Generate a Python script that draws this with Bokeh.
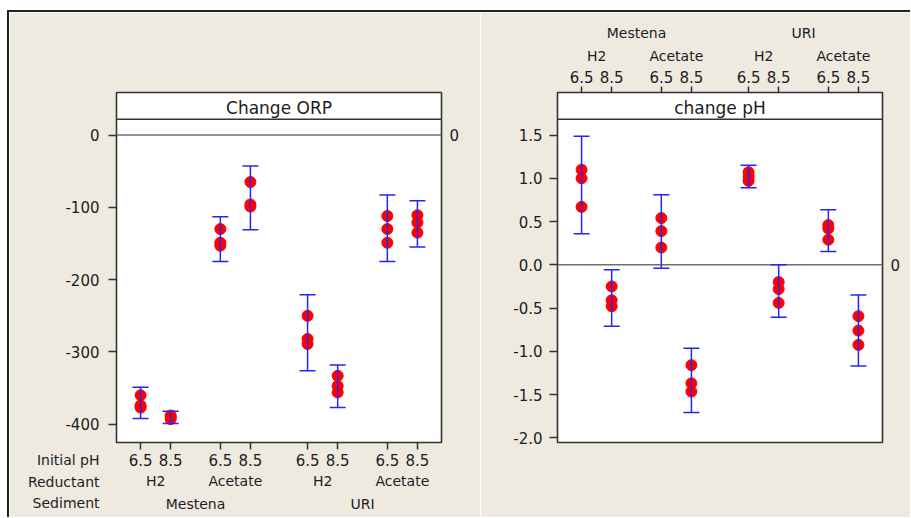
from bokeh.plotting import figure
from bokeh.models import (FactorRange, Range1d, Whisker, TeeHead, Span, Label,
                          LinearAxis, FixedTicker, ColumnDataSource, GridBox)
from bokeh.embed import file_html
from bokeh.resources import INLINE

# ---------------- data ----------------
sediments = ["Mestena", "URI"]
reductants = ["H2", "Acetate"]
initial_ph = ["6.5", "8.5"]
row_headers = ["Initial pH", "Reductant", "Sediment"]

orp_points = [[-360, -374, -377], [-388, -390, -393], [-130, -149, -153], [-65, -96, -99],
              [-250, -282, -289], [-333, -347, -356], [-112, -130, -149], [-111, -121, -135]]
orp_lower = [-392, -399, -175, -131, -326, -377, -175, -155]
orp_upper = [-349, -382, -113, -43, -221, -318, -83, -91]
orp_ticks = [0, -100, -200, -300, -400]
orp_tick_labels = ["0", "-100", "-200", "-300", "-400"]

ph_points = [[1.10, 1.00, 0.67], [-0.25, -0.41, -0.48], [0.54, 0.39, 0.20], [-1.16, -1.37, -1.465],
             [1.07, 1.02, 0.97], [-0.20, -0.28, -0.44], [0.46, 0.42, 0.29], [-0.594, -0.76, -0.925]]
ph_lower = [0.358, -0.71, -0.04, -1.707, 0.89, -0.605, 0.154, -1.17]
ph_upper = [1.487, -0.058, 0.81, -0.964, 1.15, 0.0, 0.636, -0.35]
ph_ticks = [1.5, 1.0, 0.5, 0.0, -0.5, -1.0, -1.5, -2.0]
ph_tick_labels = ["1.5", "1.0", "0.5", "0.0", "-0.5", "-1.0", "-1.5", "-2.0"]

# ---------------- styling ----------------
BG = "#EEEAE0"
FONT = "DejaVu Sans"
TXT = "#1c1c26"
RED = "#FF0000"
BLUE = "#2424FA"
EDGE = "#333333"
FRAME_W, FRAME_H = 325, 350
X_START, X_END = -0.3, 10.5
OX, OY = 9, 12          # page position of the canvases (after margin + border)
FIG_H = 505
TOP = 92                # page y of the frame top

factors = [(s, r, ph) for s in sediments for r in reductants for ph in initial_ph]


def make_panel(width, b_left, b_right, y_start, y_end, x_loc, title, points, lower, upper,
               ticks, tick_labels, y_standoff):
    xr = FactorRange(*factors, factor_padding=0.0, subgroup_padding=0.65, group_padding=0.9,
                     range_padding=0.6 / 10.2, range_padding_units="percent")
    p = figure(x_range=xr, y_range=Range1d(y_start, y_end), width=width, height=FIG_H,
               output_backend="svg", toolbar_location=None, title=None,
               x_axis_location=x_loc, min_border_left=b_left, min_border_right=b_right,
               min_border_top=TOP - OY, min_border_bottom=FIG_H - (TOP - OY) - FRAME_H,
               background_fill_color="white", border_fill_color=BG,
               outline_line_color=EDGE, outline_line_width=1.6)
    p.xgrid.visible = False
    p.ygrid.visible = False

    def yv(py):  # page px -> data value
        return y_end - (py - TOP) * (y_end - y_start) / FRAME_H

    # categorical axis (three rows of labels)
    xa = p.xaxis[0]
    xa.axis_line_color = None
    xa.major_tick_in = 0
    xa.major_tick_out = 7 if x_loc == "below" else 6
    xa.major_tick_line_color = EDGE
    xa.major_tick_line_width = 1.5
    xa.major_label_standoff = 4
    xa.separator_line_color = None
    xa.major_label_text_font = FONT
    xa.major_label_text_font_size = "15px"
    xa.major_label_text_color = TXT
    for pre in ("group", "subgroup"):
        setattr(xa, pre + "_text_font", FONT)
        setattr(xa, pre + "_text_font_size", "14px")
        setattr(xa, pre + "_text_font_style", "normal")
        setattr(xa, pre + "_text_color", TXT)

    ya = p.yaxis[0]
    ya.ticker = FixedTicker(ticks=ticks)
    ya.major_label_overrides = dict(zip(ticks, tick_labels))
    ya.axis_line_color = None
    ya.major_tick_in = 0
    ya.major_tick_out = 8
    ya.minor_tick_in = 0
    ya.minor_tick_out = 0
    ya.major_tick_line_color = EDGE
    ya.major_tick_line_width = 1.5
    ya.major_label_standoff = y_standoff
    ya.major_label_text_font = FONT
    ya.major_label_text_font_size = "15px"
    ya.major_label_text_color = TXT

    ra = LinearAxis(ticker=FixedTicker(ticks=[0]), axis_line_color=None,
                    major_label_overrides={0: "0"},
                    major_tick_in=0, major_tick_out=0, minor_tick_in=0, minor_tick_out=0,
                    major_label_standoff=8, major_label_text_font=FONT,
                    major_label_text_font_size="15px", major_label_text_color=TXT)
    p.add_layout(ra, "right")

    # zero reference line and header strip
    p.add_layout(Span(location=0, dimension="width", line_color="#707070", line_width=1.5))
    p.add_layout(Span(location=yv(118.7), dimension="width", line_color=EDGE, line_width=1.6))
    p.add_layout(Label(x=(X_START + X_END) / 2, y=yv(107.4), text=title, text_align="center",
                       text_baseline="middle", text_font=FONT, text_font_size="17px",
                       text_color=TXT))

    xs = [f for f, pts in zip(factors, points) for _ in pts]
    ys = [v for pts in points for v in pts]
    p.scatter(x=xs, y=ys, size=11, color=RED)

    src = ColumnDataSource(dict(base=factors, lower=lower, upper=upper))
    w = Whisker(base="base", lower="lower", upper="upper", source=src,
                line_color=BLUE, line_width=1.5, level="overlay",
                upper_head=TeeHead(size=16, line_color=BLUE, line_width=1.5),
                lower_head=TeeHead(size=16, line_color=BLUE, line_width=1.5))
    p.add_layout(w)
    return p


LEFT_W, RIGHT_W = 471, 430
p1 = make_panel(LEFT_W, 116 - OX, OX + LEFT_W - 441, -425.3, 58.8, "below", "Change ORP",
                orp_points, orp_lower, orp_upper, orp_ticks, orp_tick_labels, 9)
p2 = make_panel(RIGHT_W, 557 - (OX + LEFT_W), (OX + LEFT_W + RIGHT_W) - 882, -2.054, 1.992,
                "above", "change pH", ph_points, ph_lower, ph_upper, ph_ticks, ph_tick_labels, 7)

# transparent overlay carrying the row headers of the factor axis (left of the left frame)
p0 = figure(width=LEFT_W, height=FIG_H, x_range=Range1d(0, LEFT_W), y_range=Range1d(FIG_H, 0),
            output_backend="svg", toolbar_location=None, title=None,
            x_axis_type=None, y_axis_type=None,
            min_border_left=0, min_border_right=0, min_border_top=0, min_border_bottom=0,
            background_fill_alpha=0, border_fill_alpha=0, outline_line_color=None)
try:
    p0.frame_align = False
except Exception:
    pass
p0.xgrid.visible = False
p0.ygrid.visible = False
for text, center in zip(row_headers, [459.5, 481.7, 502.9]):
    p0.add_layout(Label(x=99 - OX, y=center - OY, text=text, text_align="right",
                        text_baseline="middle", text_font=FONT, text_font_size="14px",
                        text_color=TXT))

layout = GridBox(children=[(p1, 0, 0), (p0, 0, 0), (p2, 0, 1)],
                 styles={"margin-left": "7px", "margin-top": "10px",
                         "border-left": "2px solid #222222", "border-top": "2px solid #222222"})

open("out.html", "w").write(file_html(layout, INLINE))
